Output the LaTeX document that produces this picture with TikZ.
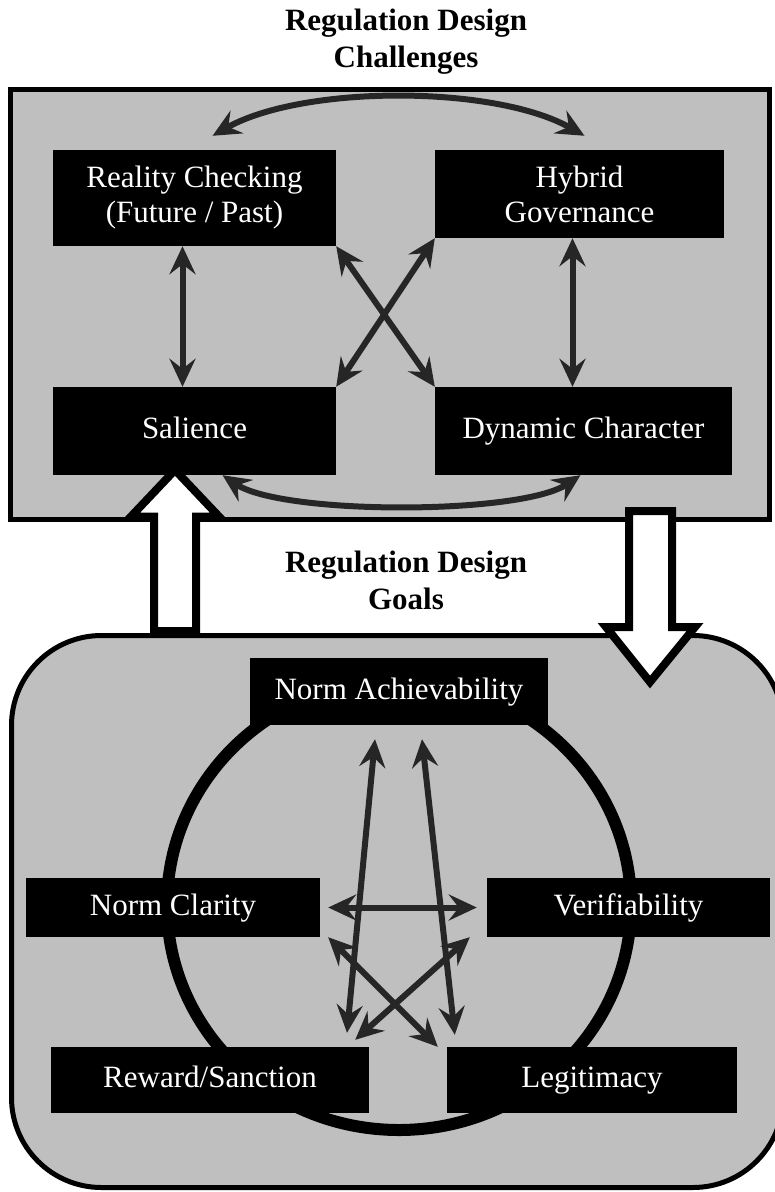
\documentclass[tikz,border=0pt]{standalone}
\usepackage{fontspec}
\setmainfont{Liberation Serif}
\usetikzlibrary{arrows.meta}
\begin{document}
\begin{tikzpicture}[x=1pt, y=-1pt, line join=miter,
	font=\fontsize{31}{35}\selectfont,
	box/.style={fill=black, text=white, inner sep=0pt, text height=22pt, text depth=7pt},
	twoline/.style={fill=black, text=white, inner sep=0pt, align=center},
	title/.style={font=\fontsize{31}{37}\selectfont\bfseries, align=center},
	dbl/.style={<->, line width=6pt, draw=black!85,
		>={Stealth[length=28pt, width=26pt, inset=10pt]}},
	block/.style={draw=black, fill=white, line width=8pt}]
	\useasboundingbox (0,0) rectangle (775,1192);
	\clip (0,0) rectangle (775,1192);
	% Khung
	\draw[line width=5pt, fill=black!25] (10.5,89.5) rectangle (769.5,519.5);
	\draw[line width=5pt, fill=black!25, rounded corners=90pt] (11.5,635.5) rectangle (783,1187.5);
	\draw[line width=12pt] (399,905) ellipse [x radius=232, y radius=225];
	% Tieu de
	\node[title] (tchal) at (406,42) {Regulation Design\\Challenges};
	\node[title] (tgoal) at (406,580) {Regulation Design\\Goals};
	% Thach thuc
	\node[twoline, minimum width=283pt, minimum height=96pt] (real) at (194.5,198) {Reality Checking\\(Future / Past)};
	\node[twoline, minimum width=289pt, minimum height=88pt] (hyb) at (579.5,194) {Hybrid\\Governance};
	\node[box, minimum width=283pt, minimum height=88pt] (sal) at (194.5,431) {Salience};
	\node[box, minimum width=297pt, minimum height=88pt] (dyn) at (583.5,431) {Dynamic Character};
	\draw[dbl] ([shift={(18pt,14pt)}]real.north) .. controls +(90,-51) and +(-90,-51) .. ([shift={(5pt,14pt)}]hyb.north);
	\draw[dbl] ([xshift=28pt]sal.south) .. controls +(60,40) and +(-60,40) .. ([xshift=-3pt]dyn.south);
	\draw[dbl] ([xshift=-12pt]real.south) -- ([xshift=-12pt]sal.north);
	\draw[dbl] ([xshift=-7pt]hyb.south) -- ([xshift=-11pt]dyn.north);
	\draw[dbl] (real.south east) -- (dyn.north west);
	\draw[dbl] (hyb.south west) -- (sal.north east);
	% Muc tieu
	\node[box, minimum width=298pt, minimum height=67pt] (ach) at (399,691.5) {Norm Achievability};
	\node[box, minimum width=294pt, minimum height=59pt] (clar) at (173,907.5) {Norm Clarity};
	\node[box, minimum width=283pt, minimum height=59pt] (ver) at (628.5,907.5) {Verifiability};
	\node[box, minimum width=318pt, minimum height=66pt] (rew) at (210,1080) {Reward/Sanction};
	\node[box, minimum width=290pt, minimum height=66pt] (leg) at (592,1080) {Legitimacy};
	\draw[dbl] ([shift={(-24pt,-14pt)}]ach.south) -- ([shift={(137pt,14pt)}]rew.north);
	\draw[dbl] ([shift={(23pt,-14pt)}]ach.south) -- ([shift={(8pt,12pt)}]leg.north west);
	\draw[dbl] ([xshift=8pt]clar.east) -- ([xshift=-10pt]ver.west);
	\draw[dbl] ([xshift=8pt]clar.south east) -- ([xshift=-9pt]leg.north west);
	\draw[dbl] ([xshift=-17pt]ver.south west) -- ([shift={(-14pt,7pt)}]rew.north east);
	% Mui ten lon
	\draw[block] (175,470) -- (219,516.5) -- (196,516.5) -- (196,631) -- (154,631) -- (154,516.5) -- (131,516.5) -- cycle;
	\draw[block] (650,682) -- (695,627) -- (672,627) -- (672,511) -- (629,511) -- (629,627) -- (606,627) -- cycle;
\end{tikzpicture}
\end{document}
